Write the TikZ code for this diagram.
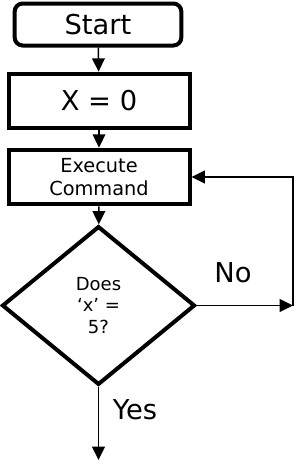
\documentclass[tikz,border=0pt]{standalone}
\usepackage{fontspec}
\setmainfont{DejaVu Sans}
\usepackage{tikz}
\usetikzlibrary{positioning,arrows.meta,shapes.geometric}

\begin{document}
\begin{tikzpicture}[x=0.75pt,y=-0.75pt,
    box/.style={rectangle,draw,line width=3pt,inner sep=0pt,align=center},
    flow/.style={line width=1.2pt,-{Triangle[length=10pt,width=9.5pt]}},
    big/.style={font=\fontsize{20.5}{24}\selectfont},
    small/.style={font=\fontsize{14.5}{17}\selectfont}]
\useasboundingbox (0,0) rectangle (300,464);
% boxes
\node (start) [box,rounded corners=6pt,minimum width=125pt,minimum height=31.5pt,big] at (98,24.5) {Start};
\node (init) [box,minimum width=135.75pt,minimum height=41pt,big] at (99,101) {X = 0};
\node (exec) [box,minimum width=135.75pt,minimum height=41pt,small] at (99,177) {Execute\\Command};
\node (check) [diamond,draw,line width=3pt,inner sep=0pt,align=center,minimum width=144.75pt,minimum height=119pt,font=\fontsize{13.5}{16}\selectfont] at (98.5,305.5) {Does\\‘x’ =\\5?};
% connectors
\draw[flow] (start) -- (init);
\draw[flow] (init) -- (exec);
\draw[flow] (exec) -- (check);
\coordinate (turn) at (293,305.5);
\coordinate (finish) at (98.5,460);
\draw[flow] (check.east) -- (turn);
\draw[flow] (turn) |- (exec.east);
\draw[flow] (check.south) -- (finish);
\node (no) at (233,273) [big] {No};
\node (yes) at (135,410) [big] {Yes};
\end{tikzpicture}
\end{document}
